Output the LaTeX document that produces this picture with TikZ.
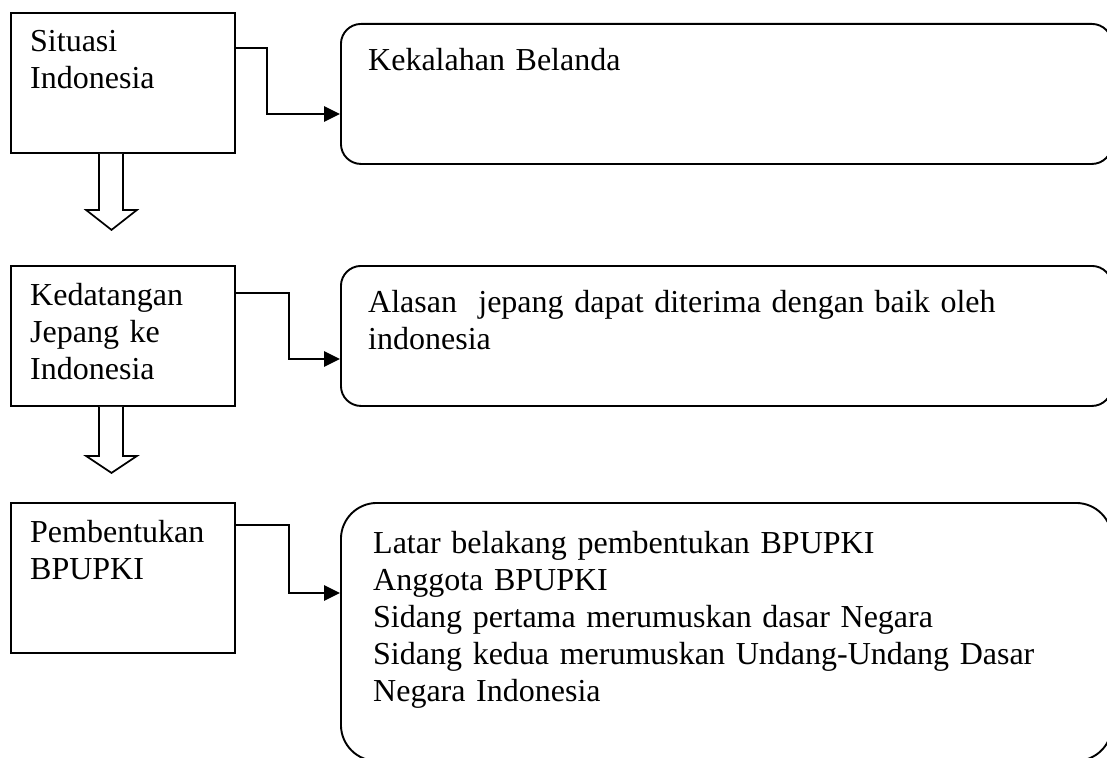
\documentclass[tikz,border=0pt]{standalone}
\usepackage{fontspec}
\setmainfont{Liberation Serif}
\usetikzlibrary{arrows.meta}
\begin{document}
\begin{tikzpicture}[x=1pt,y=-1pt,
  sqbox/.style={draw,line width=1.9pt,rectangle,minimum width=224pt,minimum height=140pt,inner sep=0pt,anchor=north west},
  rbox/.style={draw,line width=1.9pt,rectangle,rounded corners=20pt,minimum width=771pt,minimum height=140pt,inner sep=0pt,anchor=north west},
  txt/.style={anchor=base west,inner sep=0pt,align=left,text width=740pt,font=\fontsize{32}{37}\selectfont},
  conn/.style={line width=2.7pt,-{Triangle[length=16pt,width=15pt]}},
  hollow/.style={draw,line width=1.7pt,fill=white,line join=miter}
]
\useasboundingbox (0,0) rectangle (1107,757);
\clip (0,0) rectangle (1107,757);

% left boxes
\node[sqbox] (s1) at (10,12) {};
\node[sqbox] (s2) at (10,265) {};
\node[sqbox,minimum height=150pt] (s3) at (10,502) {};

% right boxes
\node[rbox] (r1) at (340,23) {};
\node[rbox] (r2) at (340,265) {};
\node[rbox,rounded corners=36pt,minimum height=258pt] (r3) at (340,502) {};

% texts
\node[txt] (t1) at (30,52) {Situasi\\Indonesia};
\node[txt] (t2) at (30,305) {Kedatangan\\Jepang ke\\Indonesia};
\node[txt] (t3) at (30,542) {Pembentukan\\BPUPKI};
\node[txt] (u1) at (368,71) {Kekalahan Belanda};
\node[txt] (u2) at (368,312) {Alasan\ \ jepang dapat diterima dengan baik oleh\\indonesia};
\node[txt] (u3) at (373,553) {Latar belakang pembentukan BPUPKI\\Anggota BPUPKI\\Sidang pertama merumuskan dasar Negara\\Sidang kedua merumuskan Undang-Undang Dasar\\Negara Indonesia};

% elbow connectors
\draw[conn] ([yshift=-36pt]s1.north east) -- ++(31,0) |- ([yshift=-91pt]r1.north west);
\draw[conn] ([yshift=-28pt]s2.north east) -- ++(53,0) |- ([yshift=-94pt]r2.north west);
\draw[conn] ([yshift=-23pt]s3.north east) -- ++(53,0) |- ([yshift=-91pt]r3.north west);

% hollow down arrows
\draw[hollow] ([xshift=89pt]s1.south west) -- ++(0,56) -- ++(-13,0) -- ++(25.5,20) -- ++(25.5,-20) -- ++(-14,0) -- ++(0,-56);
\draw[hollow] ([xshift=89pt]s2.south west) -- ++(0,49) -- ++(-13,0) -- ++(25.5,17) -- ++(25.5,-17) -- ++(-14,0) -- ++(0,-49);
\end{tikzpicture}
\end{document}
